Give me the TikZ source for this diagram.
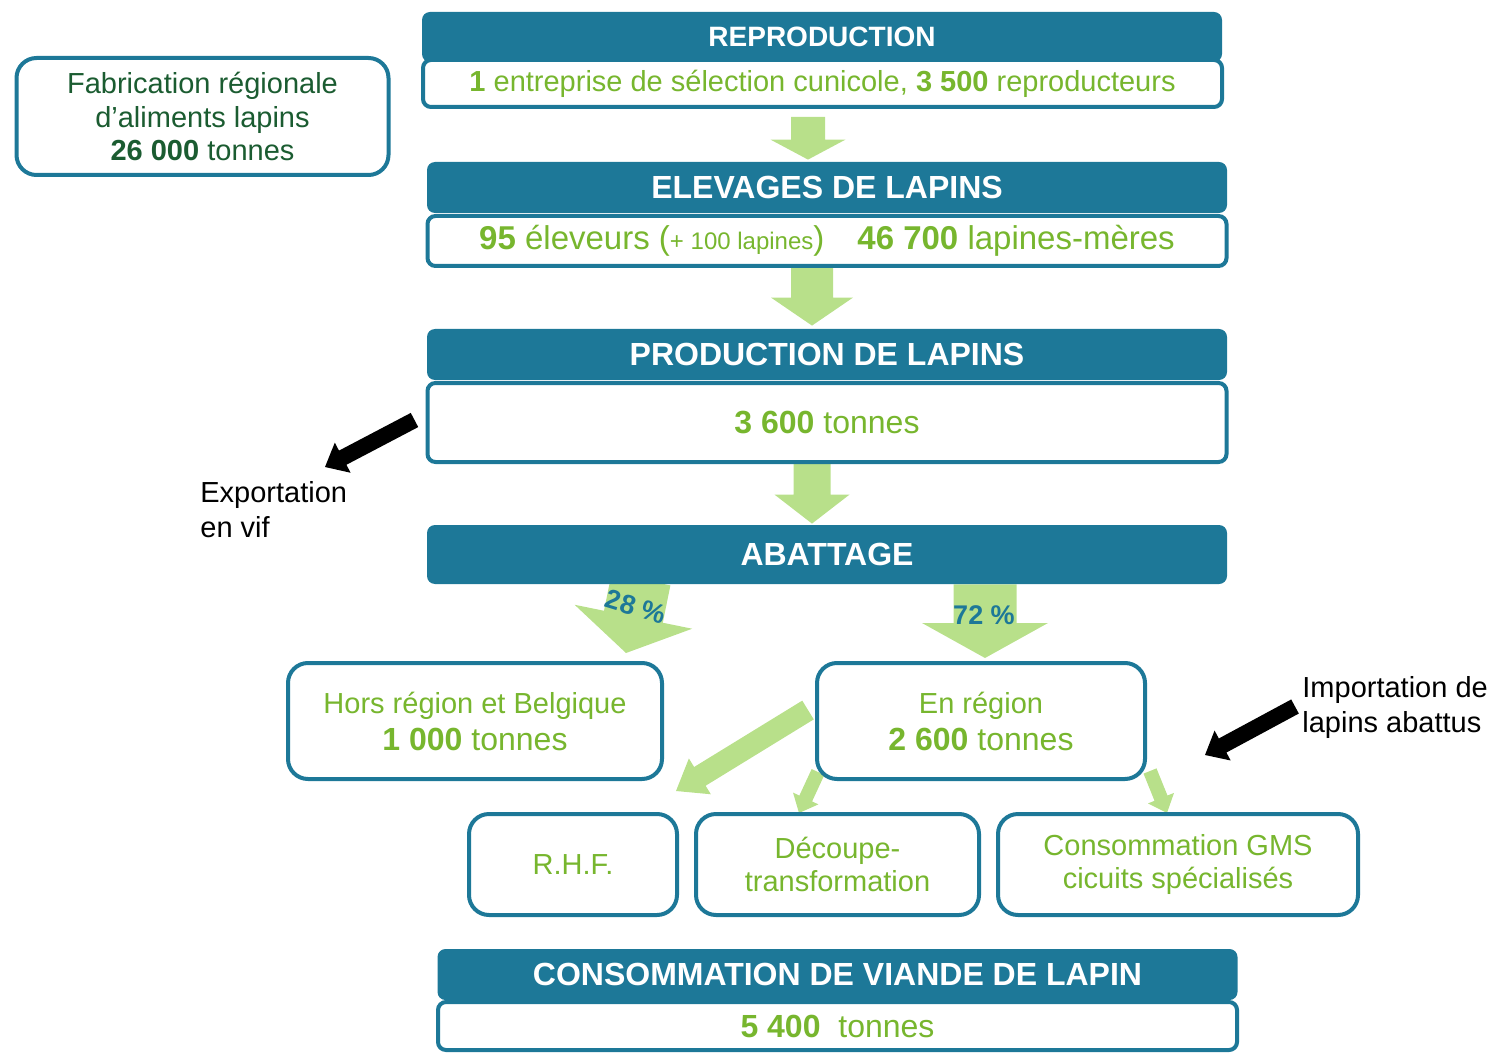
\documentclass[tikz,border=0pt]{standalone}
\usepackage{fontspec}
\setmainfont{Liberation Sans}
\usepackage{tikz}
\usetikzlibrary{calc}
\usetikzlibrary{backgrounds}
\definecolor{bleu}{HTML}{1D7898}
\definecolor{vert}{HTML}{77B62E}
\definecolor{vertclair}{HTML}{B8E08A}
\definecolor{vertfonce}{HTML}{1B5C31}
\newcommand{\grossefleche}[6]{%
  \path (#2) coordinate (gf-s) (#3) coordinate (gf-t);
  \path ($(gf-t)!#6!(gf-s)$) coordinate (gf-h);
  \fill[#1] ($(gf-s)!#4!90:(gf-t)$) -- ($(gf-h)!#4!90:(gf-t)$) -- ($(gf-h)!#5!90:(gf-t)$)
    -- (gf-t) -- ($(gf-h)!#5!-90:(gf-t)$) -- ($(gf-h)!#4!-90:(gf-t)$) -- ($(gf-s)!#4!-90:(gf-t)$) -- cycle;
}

\begin{document}
\begin{tikzpicture}[x=0.5pt,y=-0.5pt,
  titre/.style={rectangle,rounded corners=4pt,fill=bleu,text=white,inner sep=0pt,
    font=\bfseries\fontsize{16}{19}\selectfont,minimum width=400pt,minimum height=25.5pt},
  corps/.style={rectangle,rounded corners=4pt,draw=bleu,line width=2pt,fill=white,text=vert,
    inner sep=0pt,font=\fontsize{14.5}{17}\selectfont,minimum width=399.5pt},
  boite/.style={rectangle,rounded corners=10pt,draw=bleu,line width=2pt,fill=white,text=vert,
    inner sep=0pt,align=center,font=\fontsize{14.5}{16.5}\selectfont},
  legende/.style={inner sep=0pt,align=left,font=\fontsize{14.5}{17.5}\selectfont},
  pct/.style={inner sep=0pt,text=bleu,font=\bfseries\fontsize{13.5}{16}\selectfont}]

  \useasboundingbox (0,0) rectangle (1492,1053);

  \node[boite,text=vertfonce,minimum width=186pt,minimum height=58.5pt,
    font=\fontsize{14.5}{16.75}\selectfont] (fab) at (202.5,116.5)
    {Fabrication régionale\\d’aliments lapins\\\textbf{26 000} tonnes};

  \node[corps,minimum height=23.5pt] (repb) at (822.5,83.5)
    {\textbf{1} entreprise de sélection cunicole, \textbf{3 500} reproducteurs};
  \node[titre,minimum height=25pt,font=\bfseries\fontsize{14}{17}\selectfont] (reph) at (822,37) {REPRODUCTION};

  \node[corps,minimum height=25pt,font=\fontsize{16.5}{19}\selectfont] (elevb) at (827,241)
    {\textbf{95} éleveurs ({\fontsize{12}{14}\selectfont + 100 lapines})\quad\textbf{46 700} lapines-mères};
  \node[titre] (elevh) at (827,187.5) {ELEVAGES DE LAPINS};

  \node[corps,minimum height=39.5pt,font=\fontsize{16}{19}\selectfont] (prodb) at (827,422.5)
    {\textbf{3 600} tonnes};
  \node[titre] (prodh) at (827,354.5) {PRODUCTION DE LAPINS};

  \node[titre,minimum height=29.5pt] (abat) at (827,554.5) {ABATTAGE};

  \node[boite,minimum width=187pt,minimum height=58pt,font=\fontsize{14.5}{18.5}\selectfont] (hors) at (475,721)
    {Hors région et Belgique\\{\fontsize{16}{18.5}\selectfont\textbf{1 000} tonnes}};
  \node[boite,minimum width=164pt,minimum height=58pt,font=\fontsize{14.5}{18.5}\selectfont] (enreg) at (981,721)
    {En région\\{\fontsize{16}{18.5}\selectfont\textbf{2 600} tonnes}};

  \node[boite,minimum width=104pt,minimum height=50.5pt] (rhf) at (573,864.5) {R.H.F.};
  \node[boite,minimum width=141.5pt,minimum height=50.5pt] (dec) at (837.5,864.5) {Découpe-\\transformation};
  \node[boite,minimum width=180pt,minimum height=50.5pt] (gms) at (1178,864.5) {Consommation GMS\\cicuits spécialisés};

  \node[corps,minimum height=24pt,font=\fontsize{16}{19}\selectfont] (consb) at (837.5,1026)
    {\textbf{5 400}\ \ tonnes};
  \node[titre] (consh) at (837.5,974.5) {CONSOMMATION DE VIANDE DE LAPIN};

  \node[legende,anchor=west] (exp) at (200,510) {Exportation\\en vif};
  \node[legende,anchor=west] (imp) at (1302,707.5) {Importation de\\lapins abattus};
  \coordinate (expfin) at (325,467);
  \coordinate (impfin) at (1205,755);

  \begin{scope}[on background layer]
    \grossefleche{vertclair}{$(repb.south)+(-14.5,8)$}{$(elevh.north)+(-19,-2)$}{8.5pt}{18.75pt}{10pt}
    \grossefleche{vertclair}{$(elevb.south)+(-15,0)$}{$(prodh.north)+(-15,-3)$}{10.5pt}{20.5pt}{14pt}
    \grossefleche{vertclair}{$(prodb.south)+(-15,0)$}{$(abat.north)+(-15,-1)$}{9.25pt}{18.75pt}{14.5pt}
    \grossefleche{vertclair}{$(abat.south)+(-186,-5)$}{$(hors.north)+(151,-8)$}{15pt}{30pt}{18.5pt}
    \grossefleche{vertclair}{$(abat.south)+(158,0)$}{$(enreg.north)+(4,-3)$}{15.75pt}{31.5pt}{17.5pt}
    \grossefleche{vertclair}{$(enreg.west)+(-7,-11)$}{$(rhf.north)+(103,-21)$}{5.5pt}{10.5pt}{14pt}
    \grossefleche{vertclair}{$(enreg.south west)+(3,-9)$}{$(dec.north)+(-38.5,1)$}{3.5pt}{7pt}{8pt}
    \grossefleche{vertclair}{$(enreg.south east)+(3,-10)$}{$(gms.north)+(-11,1)$}{3.5pt}{7pt}{8pt}
    \grossefleche{black}{$(prodb.west)+(-11,-2.5)$}{expfin}{4pt}{8.5pt}{10pt}
    \grossefleche{black}{$(imp.west)+(-7,-1)$}{impfin}{4pt}{8.5pt}{10pt}
  \end{scope}

  \node[pct,rotate=-17] (p28) at (636,607) {28 \%};
  \node[pct] (p72) at (984,615) {72 \%};
\end{tikzpicture}
\end{document}
